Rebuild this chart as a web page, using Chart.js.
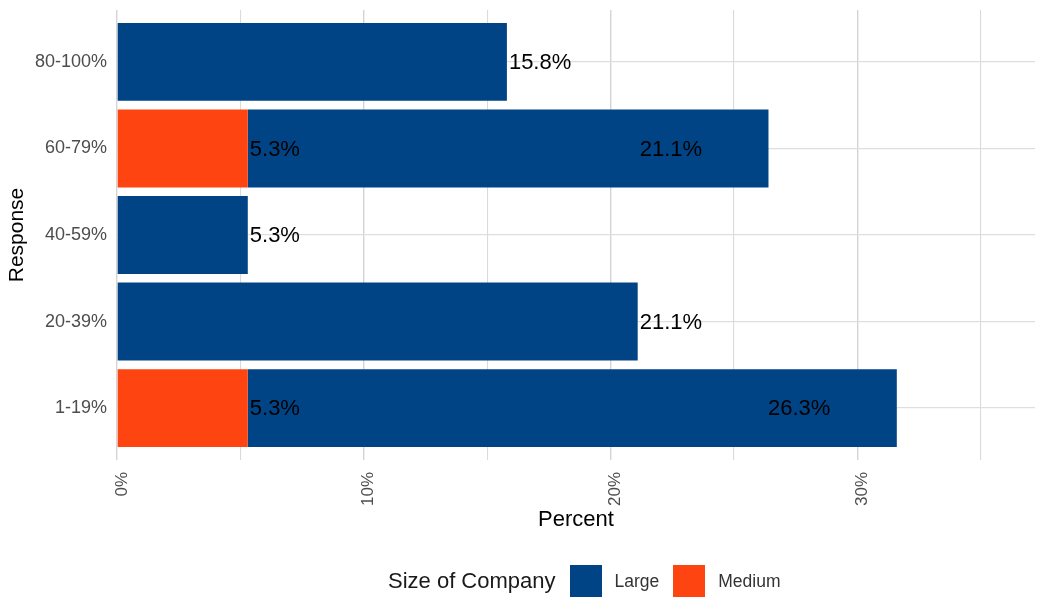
<!DOCTYPE html>
<html>
<head>
<meta charset="utf-8">
<script src="https://cdn.jsdelivr.net/npm/chart.js@4/dist/chart.umd.min.js"></script>
<style>
  html, body { margin: 0; padding: 0; background: #fff; }
  #wrap { position: relative; width: 1042px; height: 597px; font-family: 'Liberation Sans', Arial, sans-serif; }
  #legend { position: absolute; left: 388px; top: 565px; height: 32px; display: flex; align-items: center; color: #1a1a1a; }
  #legend .title { font-size: 22px; margin-right: 14px; }
  #legend .swatch { width: 32px; height: 32px; margin-right: 13px; }
  #legend .item { font-size: 17.5px; color: #333; margin-right: 14px; }
</style>
</head>
<body>
<div id="wrap">
  <canvas id="chart" width="1042" height="597"></canvas>
  <div id="legend"></div>
</div>
<script>
const categories = ['80-100%', '60-79%', '40-59%', '20-39%', '1-19%'];
const largeValues = [15.8, 21.1, 5.3, 21.1, 26.3];
const mediumValues = [0, 5.3, 0, 0, 5.3];
const seriesNames = ['Large', 'Medium'];
const seriesColors = ['#014486', '#FE4410'];
const xMax = 37.2;

const FONT = "'Liberation Sans', Arial, sans-serif";

// Bars sit on a linear index axis so the panel can run 0.6 of a slot past the end bars
function toPoints(values) {
  return values.map((v, i) => ({ x: v, y: i }));
}

// Value text starts at the value itself, not at the stacked end
const valueLabels = {
  id: 'valueLabels',
  afterDatasetsDraw(chart) {
    const ctx = chart.ctx;
    const xScale = chart.scales.x;
    ctx.save();
    ctx.font = '22px ' + FONT;
    ctx.fillStyle = '#000';
    ctx.textAlign = 'left';
    ctx.textBaseline = 'middle';
    chart.data.datasets.forEach((ds, di) => {
      const meta = chart.getDatasetMeta(di);
      meta.data.forEach((bar, i) => {
        const v = ds.data[i].x;
        if (!v) return;
        ctx.fillText(v.toFixed(1) + '%', xScale.getPixelForValue(v) + 2, bar.y + 1);
      });
    });
    ctx.restore();
  }
};

new Chart(document.getElementById('chart'), {
  type: 'bar',
  data: {
    datasets: [
      {
        label: seriesNames[1],
        data: toPoints(mediumValues),
        backgroundColor: seriesColors[1],
        borderWidth: 0
      },
      {
        label: seriesNames[0],
        data: toPoints(largeValues),
        backgroundColor: seriesColors[0],
        borderWidth: 0
      }
    ]
  },
  options: {
    indexAxis: 'y',
    responsive: false,
    animation: false,
    categoryPercentage: 0.9,
    barPercentage: 1,
    layout: { padding: { top: 10, right: 7, bottom: 64, left: 0 } },
    plugins: {
      legend: { display: false },
      tooltip: { enabled: false }
    },
    scales: {
      x: {
        type: 'linear',
        stacked: true,
        min: 0,
        max: xMax,
        afterFit(scale) { scale.height = 73; },
        border: { display: false },
        grid: {
          drawTicks: false,
          color: (ctx) => ctx.tick && ctx.tick.value % 10 === 0 ? '#d4d4d4' : '#dadada',
          lineWidth: (ctx) => ctx.tick && ctx.tick.value % 10 === 0 ? 1.4 : 1.1
        },
        ticks: {
          stepSize: 5,
          autoSkip: false,
          includeBounds: false,
          minRotation: 90,
          maxRotation: 90,
          padding: 12,
          labelOffset: 5,
          color: '#4d4d4d',
          font: { family: FONT, size: 17 },
          callback: (v) => v % 10 === 0 ? v + '%' : ''
        },
        title: {
          display: true,
          text: 'Percent',
          color: '#000',
          font: { family: FONT, size: 22 },
          padding: { top: 0, bottom: 0 }
        }
      },
      y: {
        type: 'linear',
        stacked: true,
        reverse: true,
        offset: false,
        min: -0.6,
        max: categories.length - 0.4,
        afterFit(scale) {
          scale.width = 117;
          // labels sit well inside the panel, no overflow room needed
          scale.paddingTop = 0;
          scale.paddingBottom = 0;
        },
        border: { display: false },
        grid: { drawTicks: false, offset: false, color: '#dedede', lineWidth: 1.3 },
        ticks: {
          stepSize: 1,
          includeBounds: false,
          padding: 10,
          color: '#4d4d4d',
          font: { family: FONT, size: 18 },
          callback: (v) => categories[v] !== undefined ? categories[v] : ''
        },
        title: {
          display: true,
          text: 'Response',
          color: '#000',
          font: { family: FONT, size: 21 },
          padding: { top: 5, bottom: 0 }
        }
      }
    }
  },
  plugins: [valueLabels]
});

// Legend laid out in one row, title first
const legend = document.getElementById('legend');
legend.innerHTML = '<span class="title">Size of Company</span>' +
  seriesNames.map((name, i) =>
    '<span class="swatch" style="background:' + seriesColors[i] + '"></span>' +
    '<span class="item">' + name + '</span>'
  ).join('');
</script>
</body>
</html>
